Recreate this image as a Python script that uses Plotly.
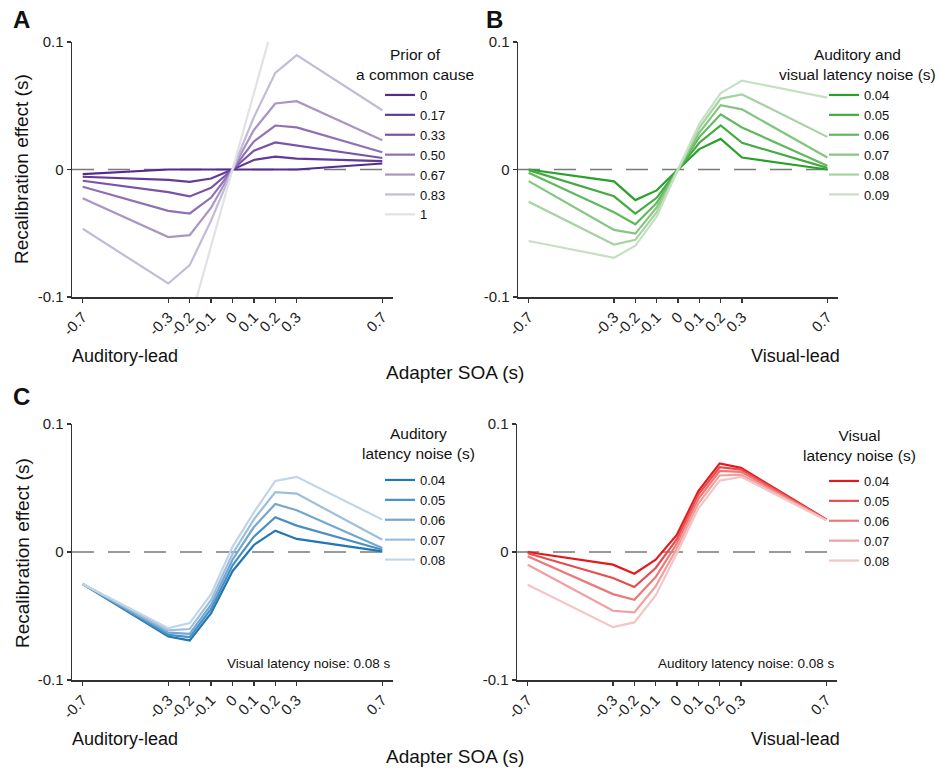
import plotly.graph_objects as go

W, H = 940, 769
FONT = "Liberation Sans, Arial, Helvetica, sans-serif"

# ---------------- data ----------------
soa = [-0.7, -0.3, -0.2, -0.1, 0.0, 0.1, 0.2, 0.3, 0.7]
soa_labels = ["-0.7", "-0.3", "-0.2", "-0.1", "0", "0.1", "0.2", "0.3", "0.7"]
y_ticks = [-0.1, 0.0, 0.1]
y_labels = ["-0.1", "0", "0.1"]

# Panel A: prior of a common cause
prior_names = ["0", "0.17", "0.33", "0.50", "0.67", "0.83", "1"]
prior_0 = [-0.0037, 0.0, 0.0, 0.0, 0.0, 0.0, 0.0, 0.0, 0.0047]
prior_017 = [-0.0057, -0.0082, -0.0097, -0.0071, 0.0, 0.0075, 0.0101, 0.0085, 0.0066]
prior_033 = [-0.0088, -0.0177, -0.0211, -0.0144, 0.0, 0.0147, 0.0212, 0.0188, 0.0090]
prior_050 = [-0.0135, -0.0324, -0.0345, -0.0220, 0.0, 0.0220, 0.0345, 0.0330, 0.0135]
prior_067 = [-0.0225, -0.0530, -0.0515, -0.0300, 0.0, 0.0310, 0.0518, 0.0536, 0.0230]
prior_083 = [-0.0465, -0.0894, -0.0750, -0.0400, 0.0, 0.0410, 0.0758, 0.0897, 0.0465]
prior_1 = [-0.42, -0.18, -0.12, -0.06, 0.0, 0.06, 0.12, 0.18, 0.42]
prior_series = [prior_0, prior_017, prior_033, prior_050, prior_067, prior_083, prior_1]
purple = ["#552b8f", "#643a98", "#7853a8", "#8f70b7", "#a895c6", "#c4bbd9", "#e1e1e6"]

# Panel B: auditory and visual latency noise
av_names = ["0.04", "0.05", "0.06", "0.07", "0.08", "0.09"]
av_004 = [0.0, -0.0093, -0.0240, -0.0164, 0.0, 0.0160, 0.0240, 0.0094, 0.0]
av_005 = [-0.0005, -0.0210, -0.0346, -0.0222, 0.0, 0.0210, 0.0346, 0.0209, 0.0013]
av_006 = [-0.0026, -0.0336, -0.0430, -0.0262, 0.0, 0.0254, 0.0433, 0.0330, 0.0029]
av_007 = [-0.0091, -0.0474, -0.0503, -0.0298, 0.0, 0.0290, 0.0505, 0.0472, 0.0094]
av_008 = [-0.0253, -0.0588, -0.0552, -0.0335, 0.0, 0.0327, 0.0556, 0.0589, 0.0256]
av_009 = [-0.0561, -0.0692, -0.0598, -0.0370, 0.0, 0.0358, 0.0600, 0.0697, 0.0564]
av_series = [av_004, av_005, av_006, av_007, av_008, av_009]
green = ["#2ca02c", "#44ab42", "#62b85e", "#84c57f", "#a5d3a1", "#c5e1c2"]

# Panel C: auditory latency noise (visual fixed 0.08 s)
aud_names = ["0.04", "0.05", "0.06", "0.07", "0.08"]
aud_004 = [-0.0250, -0.0660, -0.0691, -0.0477, -0.0150, 0.0055, 0.0167, 0.0102, 0.0005]
aud_005 = [-0.0250, -0.0647, -0.0665, -0.0445, -0.0105, 0.0120, 0.0272, 0.0206, 0.0018]
aud_006 = [-0.0250, -0.0630, -0.0639, -0.0412, -0.0060, 0.0195, 0.0375, 0.0326, 0.0032]
aud_007 = [-0.0250, -0.0613, -0.0602, -0.0375, -0.0015, 0.0255, 0.0468, 0.0456, 0.0096]
aud_008 = [-0.0250, -0.0595, -0.0555, -0.0330, 0.0040, 0.0310, 0.0555, 0.0587, 0.0253]
aud_series = [aud_004, aud_005, aud_006, aud_007, aud_008]
blue = ["#1f77b4", "#4a8fc2", "#74a7cf", "#9cbfdc", "#c0d6e8"]

# Panel D: visual latency noise (auditory fixed 0.08 s)
vis_names = ["0.04", "0.05", "0.06", "0.07", "0.08"]
vis_004 = [0.0, -0.0099, -0.0170, -0.0060, 0.0136, 0.0475, 0.0692, 0.0657, 0.0255]
vis_005 = [-0.0010, -0.0203, -0.0274, -0.0125, 0.0102, 0.0448, 0.0662, 0.0644, 0.0253]
vis_006 = [-0.0034, -0.0329, -0.0373, -0.0196, 0.0068, 0.0415, 0.0633, 0.0626, 0.0251]
vis_007 = [-0.0099, -0.0459, -0.0472, -0.0268, 0.0030, 0.0378, 0.0598, 0.0605, 0.0249]
vis_008 = [-0.0256, -0.0587, -0.0550, -0.0340, -0.0008, 0.0340, 0.0558, 0.0587, 0.0247]
vis_series = [vis_004, vis_005, vis_006, vis_007, vis_008]
red = ["#e31a1c", "#e84c4d", "#ed7878", "#f19f9f", "#f5c5c5"]

# ---------------- helpers ----------------
def px_x(p):
    return p / W

def px_y(p):
    return 1 - p / H

fig = go.Figure()

panels = [
    ("", "legend", prior_names, prior_series, purple),
    ("2", "legend2", av_names, av_series, green),
    ("3", "legend3", aud_names, aud_series, blue),
    ("4", "legend4", vis_names, vis_series, red),
]

for suf, leg, names, series, cols in panels:
    for nm, ys, c in zip(names, series, cols):
        fig.add_trace(go.Scatter(
            x=soa, y=ys, mode="lines", name=nm,
            line=dict(color=c, width=2.2),
            xaxis="x" + suf, yaxis="y" + suf, legend=leg,
            hoverinfo="skip",
        ))
    # dashed zero reference line
    fig.add_shape(type="line", xref="x" + suf + " domain", yref="y" + suf,
                  x0=0, x1=0.985, y0=0, y1=0,
                  line=dict(color="#7a7a7a", width=1.3, dash="22px,14px"),
                  layer="below")

xdoms = {"": (72, 393), "2": (518, 838), "3": (72, 393), "4": (517, 837)}
ydoms = {"": (42, 297), "2": (42, 297), "3": (424, 680), "4": (424, 680)}

axis_common = dict(showgrid=False, zeroline=False, showline=True,
                   linecolor="#333333", linewidth=1.5, ticks="outside",
                   ticklen=4, tickwidth=1.3, tickcolor="#333333",
                   automargin=False,
                   tickfont=dict(family=FONT, size=15, color="#222222"))

layout_axes = {}
for suf in ["", "2", "3", "4"]:
    xd = xdoms[suf]
    yd = ydoms[suf]
    layout_axes["xaxis" + suf] = dict(
        domain=[px_x(xd[0]), px_x(xd[1])], range=[-0.75, 0.75],
        tickvals=soa, ticktext=soa_labels, tickangle=-45,
        anchor="y" + suf, fixedrange=True, **axis_common)
    layout_axes["yaxis" + suf] = dict(
        domain=[px_y(yd[1]), px_y(yd[0])], range=[-0.1, 0.1],
        tickvals=y_ticks, ticktext=y_labels,
        anchor="x" + suf, fixedrange=True, **axis_common)

fig.update_layout(**layout_axes)

leg_common = dict(bgcolor="rgba(0,0,0,0)", borderwidth=0, xanchor="left",
                  yanchor="top", itemwidth=30, tracegroupgap=0,
                  traceorder="normal",
                  font=dict(family=FONT, size=13, color="#111111"))
fig.update_layout(
    legend=dict(x=px_x(380), y=px_y(80), **leg_common),
    legend2=dict(x=px_x(824), y=px_y(80), **leg_common),
    legend3=dict(x=px_x(380), y=px_y(465), **leg_common),
    legend4=dict(x=px_x(824), y=px_y(466), **leg_common),
)

ann = []

def text(x, y, s, size, xanchor="center", yanchor="middle", angle=0, bold=False, align="center"):
    ann.append(dict(x=px_x(x), y=px_y(y), xref="paper", yref="paper",
                    text=("<b>%s</b>" % s) if bold else s, showarrow=False,
                    xanchor=xanchor, yanchor=yanchor, textangle=angle,
                    align=align,
                    font=dict(family=FONT, size=size, color="#111111")))

# panel letters
text(21, 19, "A", 24, bold=True)
text(494, 19, "B", 24, bold=True)
text(21, 396, "C", 24, bold=True)

# y-axis titles
text(22, 169, "Recalibration effect (s)", 19, angle=-90)
text(22, 553, "Recalibration effect (s)", 19, angle=-90)

# direction labels and x-axis titles
text(70, 356, "Auditory-lead", 18, xanchor="left")
text(842, 356, "Visual-lead", 18, xanchor="right")
text(455, 372, "Adapter SOA (s)", 19)
text(70, 739, "Auditory-lead", 18, xanchor="left")
text(842, 739, "Visual-lead", 18, xanchor="right")
text(455, 756, "Adapter SOA (s)", 19)

# legend titles
text(415, 64, "Prior of<br>a common cause", 15.5)
text(857, 64, "Auditory and<br>visual latency noise (s)", 15.5)
text(418, 444, "Auditory<br>latency noise (s)", 15.5)
text(859, 445, "Visual<br>latency noise (s)", 15.5)

# fixed-parameter notes
text(393, 663, "Visual latency noise: 0.08 s", 13.5, xanchor="right")
text(837, 663, "Auditory latency noise: 0.08 s", 13.5, xanchor="right")

fig.update_layout(
    annotations=ann,
    template="none",
    width=W, height=H, autosize=False,
    margin=dict(l=0, r=0, t=0, b=0, pad=0),
    paper_bgcolor="white", plot_bgcolor="white",
    font=dict(family=FONT, size=14, color="#111111"),
    showlegend=True,
)

fig.write_html(
    "out.html",
    config={"displayModeBar": False, "staticPlot": True},
    post_script="document.body.style.margin='0';document.body.style.padding='0';document.body.style.overflow='hidden';",
)
